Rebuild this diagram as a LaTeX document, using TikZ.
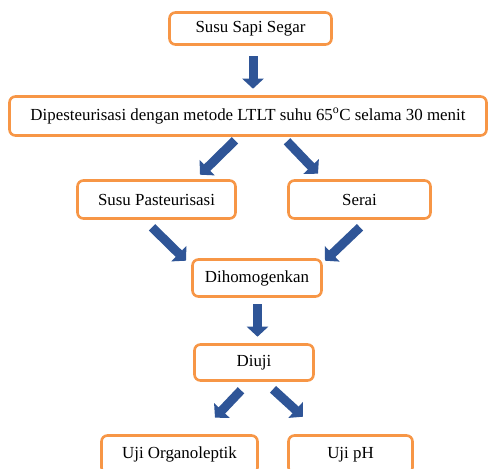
\documentclass[tikz,border=0pt]{standalone}
\usepackage{fontspec}
\setmainfont{Liberation Serif}
\usetikzlibrary{arrows.meta, calc}

\definecolor{boxorange}{RGB}{247,150,70}
\definecolor{arrowblue}{RGB}{47,85,151}

\begin{document}
\begin{tikzpicture}[x=1pt, y=-1pt,
    every node/.style={font=\fontsize{16.9}{19}\selectfont},
    stepbox/.style={draw=boxorange, line width=2.6pt, rounded corners=6pt,
      fill=white, inner sep=0pt},
    blk/.style={arrowblue, line width=9pt,
      -{Triangle[width=21pt, length=10pt]}}]
    % Keep the page the size of the reference (bottom boxes are cut off)
    \clip (0,0) rectangle (488,469);
    \fill[white] (0,0) rectangle (488,469);

    % Top: raw milk and pasteurisation
    \node[stepbox, minimum width=162, minimum height=32] (sapi) at (250.5,28.5) {Susu Sapi Segar};
    \node[stepbox, minimum width=477, minimum height=39] (ltlt) at (248,116)
      {Dipesteurisasi dengan metode LTLT suhu 65\textsuperscript{o}C selama 30 menit};

    % Middle: two inputs
    \node[stepbox, minimum width=158, minimum height=38] (past) at (156.5,199.5) {Susu Pasteurisasi};
    \node[stepbox, minimum width=142, minimum height=38] (serai) at (359.5,199.5) {Serai};
    \node[stepbox, minimum width=129, minimum height=37] (homo) at (257,278) {Dihomogenkan};
    \node[stepbox, minimum width=119, minimum height=36] (uji) at (254,362.5) {Diuji};

    % Bottom: the two tests
    \node[stepbox, minimum width=156, minimum height=38] (organo) at (179.5,454.5) {Uji Organoleptik};
    \node[stepbox, minimum width=124, minimum height=38] (ph) at (350.5,454.5) {Uji pH};

    % Block arrows
    \draw[blk] ($(sapi.south)+(2.5,10.5)$) -- ($(ltlt.north)+(5,-6.5)$);
    \draw[blk] ($(ltlt.south)+(-13,3.5)$) -- ($(past.north)+(43.5,-4.5)$);
    \draw[blk] ($(ltlt.south)+(39,4.5)$) -- ($(serai.north)+(-41.5,-5.5)$);
    \draw[blk] ($(past.south)+(-4.5,7.5)$) -- ($(homo.north)+(-71,2.5)$);
    \draw[blk] ($(serai.south)+(0.5,7.5)$) -- ($(homo.north)+(68,2.5)$);
    \draw[blk] ($(homo.south)+(0.5,6.5)$) -- ($(uji.north)+(3.5,-6.5)$);
    \draw[blk] ($(uji.south)+(-13,8.5)$) -- ($(organo.north)+(35.5,-16.5)$);
    \draw[blk] ($(uji.south)+(19,7.5)$) -- ($(ph.north)+(-47.5,-17.5)$);
\end{tikzpicture}
\end{document}
